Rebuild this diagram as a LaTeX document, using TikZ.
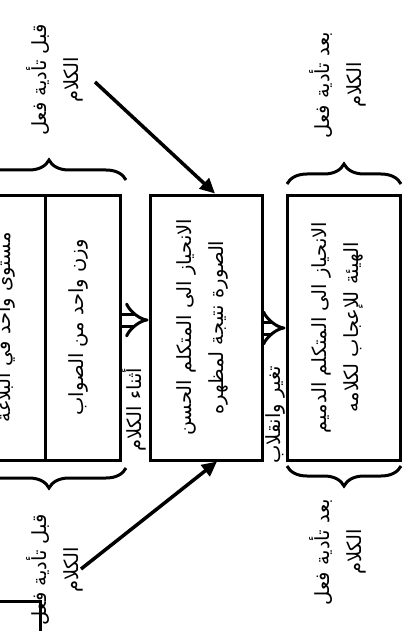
\documentclass[tikz,border=0pt]{standalone}
\usepackage{fontspec}
\newfontfamily\arabicfont[Script=Arabic]{DejaVu Sans}
\TeXXeTstate=1
\usetikzlibrary{arrows.meta,decorations.pathreplacing,calc}
\newcommand\rtl[1]{\beginR #1\endR}

\begin{document}
\begin{tikzpicture}[x=1pt,y=-1pt,
  box/.style={draw, line width=3pt, inner sep=0pt},
  vtext/.style={rotate=90, font=\arabicfont\fontsize{19.5}{32}\selectfont, align=center, inner sep=0pt},
  bracket/.style={decorate, decoration={brace, amplitude=20pt}, line width=3pt},
  pointer/.style={line width=3.5pt, -{Triangle[length=15pt,width=14pt]}},
  shift arrow/.style={double, double distance=9pt, line width=3pt, -{Implies[length=9pt,width=30pt]}},
]
\path[use as bounding box, clip] (0,0) rectangle (414,631);

% stage boxes
\node[box, minimum width=75pt, minimum height=265pt] (colA) at (7.5,327.5) {};
\node[box, minimum width=75pt, minimum height=265pt] (colB) at (82.5,327.5) {};
\node[box, minimum width=112pt, minimum height=265pt] (mid) at (206,327.5) {};
\node[box, minimum width=113pt, minimum height=265pt] (res) at (343.5,327.5) {};
\node[box, minimum width=80pt, minimum height=80pt] (cut) at (0,641) {};

% box texts
\node[vtext] (tA) at ([xshift=-2pt]colA.center) {\rtl{مستوى واحد في البلاغة}};
\node[vtext] (tB) at ([xshift=-4pt]colB.center) {\rtl{وزن واحد من الصواب}};
\node[vtext] (tM) at ([xshift=-4pt]mid.center) {\rtl{الانحياز الى المتكلم الحسن}\\\rtl{الصورة نتيجة لمظهره}};
\node[vtext] (tR) at ([xshift=-6pt]res.center) {\rtl{الانحياز الى المتكلم الدميم}\\\rtl{الهيئة للإعجاب لكلامه}};

% transitions
\draw[shift arrow] ([yshift=7.5pt]colB.east) -- ([yshift=7.5pt]mid.west);
\draw[shift arrow] ([yshift=-0.5pt]mid.east) -- ([yshift=-0.5pt]res.west);
\node[vtext] (during) at (134,410) {\rtl{أثناء الكلام}};
\node[vtext] (change) at (275,415) {\rtl{تغير وانقلاب}};

% braces
\draw[bracket] (-28,180) -- (126,180);
\draw[bracket] (126,468) -- (-28,468);
\draw[bracket] (287,184) -- (401,184);
\draw[bracket] (401,466) -- (287,466);

% time labels
\node[vtext] (beforeTop) at (55,80) {\rtl{قبل تأدية فعل}\\\rtl{الكلام}};
\node[vtext] (beforeBot) at (55,570) {\rtl{قبل تأدية فعل}\\\rtl{الكلام}};
\node[vtext] (afterTop) at (338,85) {\rtl{بعد تأدية فعل}\\\rtl{الكلام}};
\node[vtext] (afterBot) at (338,552) {\rtl{بعد تأدية فعل}\\\rtl{الكلام}};

% pointers to the central stage
\coordinate (p1) at (95,82);
\coordinate (p2) at (81,569);
\draw[pointer] (p1) -- ([xshift=9pt]mid.north);
\draw[pointer] (p2) -- ([xshift=11pt]mid.south);
\end{tikzpicture}
\end{document}
